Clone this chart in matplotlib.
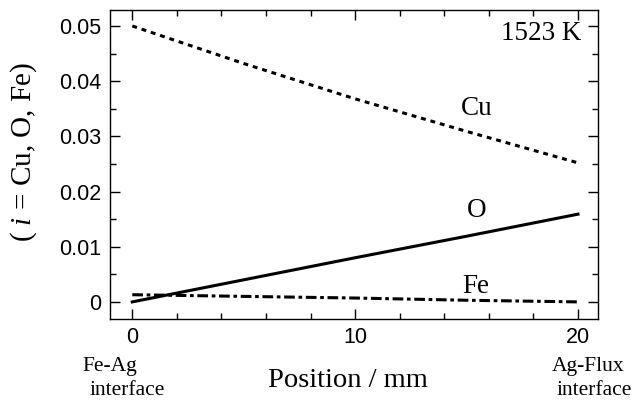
import matplotlib
matplotlib.use("Agg")
import matplotlib.pyplot as plt
from matplotlib.ticker import MultipleLocator, FixedFormatter, FixedLocator

plt.rcParams["mathtext.fontset"] = "custom"
plt.rcParams["mathtext.it"] = "Liberation Serif:italic"
plt.rcParams["mathtext.rm"] = "Liberation Serif"

position = [0, 5, 10, 15, 20]
cu = [0.0500, 0.0432, 0.0368, 0.0309, 0.0252]
o = [0.0000, 0.0040, 0.0080, 0.0119, 0.0159]
fe = [0.0013, 0.0010, 0.0007, 0.0003, 0.0000]

yticks = [0, 0.01, 0.02, 0.03, 0.04, 0.05]
ytick_labels = ["0", "0.01", "0.02", "0.03", "0.04", "0.05"]
xticks = [0, 10, 20]
xtick_labels = ["0", "10", "20"]

fig = plt.figure(figsize=(6.34, 4.01), dpi=100)
ax = fig.add_axes([110/634, 1-319/401, (598-110)/634, (319-10)/401])

lw = 2.2
ax.plot(position, cu, color="black", lw=lw, linestyle=(0, (1.6, 1.6)))
ax.plot(position, o, color="black", lw=lw, linestyle="-")
ax.plot(position, fe, color="black", lw=lw, linestyle=(0, (3.5, 1.2, 1.2, 1.2)))

ax.set_xlim(-1, 20.9)
ax.set_ylim(-0.0031, 0.0529)

ax.xaxis.set_major_locator(FixedLocator(xticks))
ax.xaxis.set_major_formatter(FixedFormatter(xtick_labels))
ax.xaxis.set_minor_locator(MultipleLocator(2))
ax.yaxis.set_major_locator(FixedLocator(yticks))
ax.yaxis.set_major_formatter(FixedFormatter(ytick_labels))
ax.yaxis.set_minor_locator(MultipleLocator(0.005))

ax.tick_params(which="both", direction="in", top=True, right=True, width=1.0,
               labelsize=15.5, pad=6)
ax.tick_params(which="major", length=7)
ax.tick_params(which="minor", length=4)
for lab in ax.get_xticklabels() + ax.get_yticklabels():
    lab.set_fontfamily("Liberation Sans")
for s in ax.spines.values():
    s.set_linewidth(1.0)

serif = "Liberation Serif"

def px(x, y):
    return (x/634, 1 - y/401)

fig.text(*px(477, 115), "Cu", fontsize=19.5, family=serif, ha="center", va="baseline")
fig.text(*px(477, 217), "O", fontsize=19.5, family=serif, ha="center", va="baseline")
fig.text(*px(476, 293), "Fe", fontsize=19.5, family=serif, ha="center", va="baseline")
fig.text(*px(581, 40), "1523 K", fontsize=19.5, family=serif, ha="right", va="baseline")
fig.text(*px(348, 387), "Position / mm", fontsize=20.5, family=serif, ha="center", va="baseline")
fig.text(*px(110, 371), "Fe-Ag", fontsize=15.5, family=serif, ha="center", va="baseline")
fig.text(*px(127, 395), "interface", fontsize=15.5, family=serif, ha="center", va="baseline")
fig.text(*px(588, 371), "Ag-Flux", fontsize=15.5, family=serif, ha="center", va="baseline")
fig.text(*px(594, 395), "interface", fontsize=15.5, family=serif, ha="center", va="baseline")
fig.text(*px(24, 152), r"( $i$ = Cu, O, Fe)", fontsize=21, family=serif, rotation=90,
         ha="center", va="center")

fig.savefig("out.png", dpi=100)
